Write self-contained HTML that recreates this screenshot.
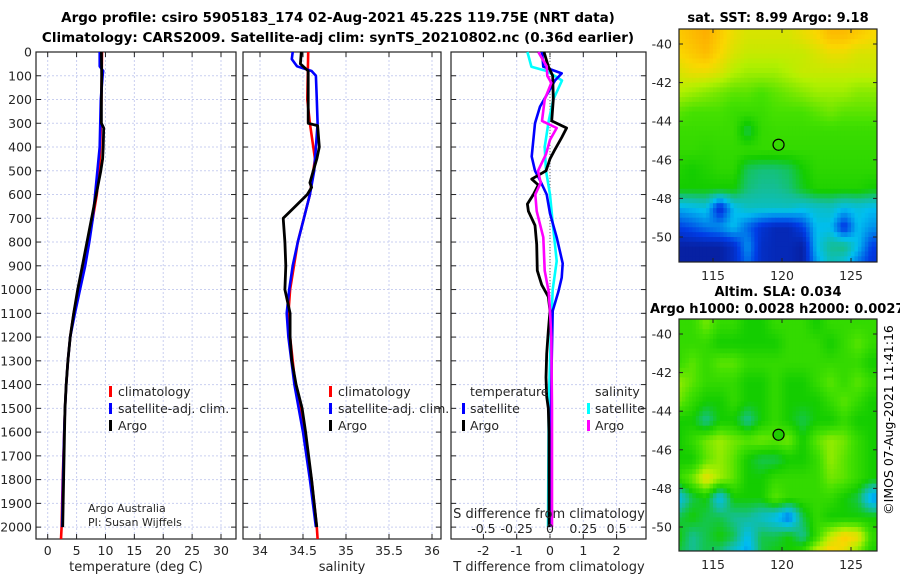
<!DOCTYPE html>
<html><head><meta charset="utf-8"><style>
body{margin:0;background:#fff;}
svg{display:block;font-family:"DejaVu Sans","Liberation Sans",sans-serif;}
</style></head><body>
<svg id="fig" width="900" height="580" viewBox="0 0 900 580" xmlns="http://www.w3.org/2000/svg">
<text x="338" y="22" font-size="13.5" font-weight="bold" text-anchor="middle">Argo profile: csiro 5905183_174 02-Aug-2021 45.22S 119.75E (NRT data)</text>
<text x="338" y="42" font-size="13.5" font-weight="bold" text-anchor="middle">Climatology: CARS2009. Satellite-adj clim: synTS_20210802.nc (0.36d earlier)</text>
<text x="778" y="22" font-size="13" font-weight="bold" text-anchor="middle">sat. SST: 8.99 Argo: 9.18</text>
<text x="778" y="296" font-size="13" font-weight="bold" text-anchor="middle">Altim. SLA: 0.034</text>
<text x="650" y="313" font-size="13" font-weight="bold">Argo h1000: 0.0028 h2000: 0.0027</text>
<text transform="translate(893,420) rotate(-90)" font-size="12.5" text-anchor="middle">©IMOS 07-Aug-2021 11:41:16</text>
<g id="plots"></g>
</svg>
<script>
// ---- data ----
const depthTicks=[0,100,200,300,400,500,600,700,800,900,1000,1100,1200,1300,1400,1500,1600,1700,1800,1900,2000];
const tempTicks=[0,5,10,15,20,25,30];
const salTicks=[34,34.5,35,35.5,36];
const tdiffTicks=[-2,-1,0,1,2];
const sdiffTicks=[-0.5,-0.25,0,0.25,0.5];
const sdiffTickLabels=["-0.5","-0.25","0","0.25","0.5"];

const tClimDepth=[0,200,400,500,600,700,800,900,1000,1100,1200,1300,1400,1500,1600,1800,2000,2050];
const tClim=[9.4,9.3,9.1,8.9,8.5,7.8,7.0,6.2,5.3,4.5,3.9,3.5,3.2,3.0,2.85,2.6,2.4,2.3];
const tSatDepth=[0,60,80,100,200,400,600,700,800,900,1000,1100,1200,1300,1400,1500,1600,1800,2000];
const tSat=[9.0,9.0,9.6,9.5,9.2,9.0,8.2,7.8,7.2,6.5,5.6,4.7,3.9,3.5,3.2,3.0,2.85,2.65,2.5];
const tArgoDepth=[0,100,200,300,320,400,450,500,600,700,800,900,1000,1100,1200,1300,1400,1500,1600,1800,2000];
const tArgo=[9.3,9.35,9.3,9.3,9.7,9.6,9.5,9.2,8.4,7.6,6.8,6.0,5.2,4.5,3.9,3.5,3.2,3.0,2.9,2.75,2.6];

const sClimDepth=[0,200,300,450,600,800,1000,1100,1200,1400,1600,1800,2000,2050];
const sClim=[34.56,34.55,34.58,34.64,34.58,34.44,34.35,34.33,34.35,34.41,34.52,34.6,34.66,34.67];
const sSatDepth=[0,30,60,80,100,200,300,400,500,600,700,800,900,1000,1100,1200,1400,1600,1800,2000];
const sSat=[34.38,34.37,34.43,34.6,34.65,34.66,34.67,34.65,34.63,34.58,34.51,34.44,34.38,34.34,34.31,34.33,34.4,34.5,34.58,34.65];
const sArgoDepth=[0,50,80,300,310,400,450,500,550,570,600,650,700,800,900,1000,1100,1200,1300,1400,1500,1600,1800,2000];
const sArgo=[34.48,34.47,34.56,34.56,34.67,34.69,34.66,34.62,34.58,34.6,34.55,34.41,34.27,34.29,34.3,34.29,34.35,34.35,34.37,34.42,34.49,34.53,34.6,34.66];

const dTSatDepth=[0,62,90,120,230,300,440,500,540,600,680,780,890,950,1010,1090,1300,1600,2000];
const dTSat=[-0.24,-0.2,0.35,0.15,-0.3,-0.45,-0.55,-0.45,-0.3,-0.1,0,0.2,0.38,0.35,0.25,0.08,0.05,0.02,0.0];
const dTArgoDepth=[0,60,100,200,290,320,360,410,450,500,535,560,600,640,670,730,810,920,980,1030,1090,1175,1270,1370,1450,1500,1600,2000];
const dTArgo=[-0.18,-0.05,0.08,0.1,0.05,0.5,0.35,0.15,0,-0.12,-0.55,-0.35,-0.5,-0.68,-0.65,-0.45,-0.4,-0.38,-0.25,-0.05,0,-0.05,-0.1,-0.12,-0.1,-0.05,-0.03,-0.03];
const dSSatDepth=[0,62,80,120,200,290,400,500,600,720,880,1000,1200,1500,2000];
const dSSat=[-0.17,-0.14,-0.025,0.09,0.025,-0.01,-0.04,-0.03,0,0.02,0.05,0.02,0.005,-0.01,-0.015];
const dSArgoDepth=[0,60,100,130,200,290,320,370,430,500,550,600,670,780,920,1010,1090,1200,1500,2000];
const dSArgo=[-0.088,-0.025,-0.02,0.01,-0.04,-0.06,0.05,0,-0.03,-0.09,-0.07,-0.11,-0.1,-0.05,-0.04,-0.01,0,0.01,0.015,0.015];

const mapLons=[112,113,114,115,116,117,118,119,120,121,122,123,124,125,126];
const mapLats=[-39,-40,-41,-42,-43,-44,-45,-46,-47,-48,-49,-50,-51];
const sstGrid=[
[0.78,0.8,0.82,0.78,0.74,0.72,0.72,0.72,0.72,0.74,0.76,0.8,0.8,0.78,0.76],
[0.76,0.78,0.8,0.76,0.72,0.7,0.7,0.7,0.7,0.7,0.72,0.74,0.74,0.72,0.72],
[0.72,0.74,0.74,0.72,0.68,0.66,0.66,0.66,0.68,0.7,0.7,0.7,0.7,0.7,0.7],
[0.68,0.66,0.64,0.62,0.6,0.6,0.58,0.6,0.62,0.64,0.66,0.66,0.66,0.64,0.64],
[0.6,0.58,0.58,0.58,0.56,0.56,0.56,0.58,0.58,0.58,0.6,0.62,0.6,0.6,0.6],
[0.56,0.56,0.56,0.56,0.56,0.45,0.55,0.56,0.56,0.56,0.56,0.56,0.56,0.56,0.56],
[0.55,0.55,0.54,0.55,0.55,0.55,0.55,0.55,0.55,0.55,0.55,0.55,0.55,0.55,0.55],
[0.52,0.5,0.52,0.54,0.54,0.44,0.42,0.42,0.44,0.5,0.54,0.54,0.54,0.54,0.54],
[0.5,0.5,0.5,0.5,0.5,0.42,0.4,0.4,0.42,0.48,0.52,0.52,0.52,0.52,0.5],
[0.28,0.3,0.32,0.1,0.3,0.35,0.35,0.35,0.35,0.32,0.34,0.35,0.3,0.32,0.3],
[0.15,0.18,0.22,0.25,0.3,0.2,0.12,0.08,0.08,0.15,0.3,0.3,0.12,0.3,0.25],
[0.05,0.05,0.05,0.05,0.1,0.25,0.1,0.08,0.08,0.05,0.3,0.4,0.42,0.3,0.15],
[0.05,0.05,0.05,0.05,0.1,0.2,0.1,0.08,0.08,0.05,0.25,0.35,0.3,0.2,0.12]];
const slaGrid=[
[0.55,0.55,0.62,0.55,0.55,0.5,0.5,0.55,0.55,0.55,0.5,0.55,0.55,0.55,0.55],
[0.55,0.55,0.55,0.5,0.5,0.5,0.5,0.5,0.55,0.55,0.55,0.5,0.55,0.6,0.55],
[0.55,0.6,0.55,0.6,0.6,0.55,0.55,0.55,0.55,0.55,0.55,0.55,0.55,0.55,0.5],
[0.65,0.6,0.55,0.55,0.55,0.5,0.5,0.55,0.5,0.5,0.55,0.6,0.55,0.6,0.55],
[0.62,0.55,0.5,0.5,0.55,0.5,0.5,0.55,0.5,0.5,0.5,0.55,0.6,0.55,0.5],
[0.5,0.5,0.4,0.5,0.5,0.4,0.5,0.55,0.5,0.45,0.5,0.5,0.55,0.5,0.5],
[0.5,0.55,0.62,0.66,0.62,0.6,0.62,0.6,0.62,0.5,0.6,0.65,0.62,0.55,0.5],
[0.5,0.5,0.6,0.65,0.6,0.5,0.45,0.45,0.5,0.5,0.55,0.65,0.6,0.55,0.5],
[0.55,0.62,0.75,0.66,0.6,0.5,0.5,0.55,0.55,0.55,0.55,0.62,0.6,0.55,0.5],
[0.3,0.45,0.5,0.3,0.5,0.5,0.5,0.6,0.55,0.55,0.55,0.55,0.5,0.45,0.25],
[0.45,0.5,0.45,0.45,0.4,0.4,0.35,0.3,0.2,0.45,0.55,0.5,0.5,0.5,0.5],
[0.5,0.4,0.45,0.5,0.45,0.3,0.45,0.45,0.5,0.4,0.55,0.7,0.78,0.75,0.55],
[0.45,0.4,0.45,0.4,0.3,0.25,0.45,0.5,0.5,0.6,0.75,0.8,0.72,0.6,0.5]];
const floatLon=119.75, floatLat=-45.22;
const latTicks=[-40,-42,-44,-46,-48,-50];
const lonTicks=[115,120,125];

// ---- helpers ----
const NS="http://www.w3.org/2000/svg";
const root=document.getElementById('plots');
function mk(tag,attrs,parent){const e=document.createElementNS(NS,tag);for(const k in attrs)e.setAttribute(k,attrs[k]);(parent||root).appendChild(e);return e;}
const Y0=52, YB=539, DMAX=2050;
const yD=d=>Y0+d*(YB-Y0)/DMAX;
function linScale(v0,p0,v1,p1){return v=>p0+(v-v0)*(p1-p0)/(v1-v0);}

function panel(name,x0,x1,xs,ticks,labels){
  const g=mk('g',{});
  
  
  ticks.forEach(t=>{const x=xs(t);const l=mk('line',{x1:x,x2:x,y1:Y0,y2:YB,stroke:'#c9cff0','stroke-width':1,'stroke-dasharray':'2,2'},g);
    });
  depthTicks.forEach(d=>{const y=yD(d);const l=mk('line',{x1:x0,x2:x1,y1:y,y2:y,stroke:'#c9cff0','stroke-width':1,'stroke-dasharray':'2,2'},g);
    
    mk('line',{x1:x0,x2:x0+5,y1:y,y2:y,stroke:'#222'},g);mk('line',{x1:x1-5,x2:x1,y1:y,y2:y,stroke:'#222'},g);});
  ticks.forEach((t,i)=>{const x=xs(t);mk('line',{x1:x,x2:x,y1:YB,y2:YB-5,stroke:'#222'},g);mk('line',{x1:x,x2:x,y1:Y0,y2:Y0+5,stroke:'#222'},g);
    if(labels){const tx=mk('text',{x:x,y:555,'font-size':12.5,'text-anchor':'middle',fill:'#262626'},g);tx.textContent=labels[i];
      }});
  const fr=mk('rect',{x:x0,y:Y0,width:x1-x0,height:YB-Y0,fill:'none',stroke:'#222','stroke-width':1.2},g);
  
  return g;
}
function series(g,name,depths,vals,xs,color,w){
  const pts=depths.map((d,i)=>xs(vals[i]).toFixed(1)+','+yD(d).toFixed(1)).join(' ');
  const p=mk('polyline',{points:pts,fill:'none',stroke:color,'stroke-width':w||2.6,'stroke-linejoin':'round'},g);
  
  
}
function txt(g,name,x,y,s,size,anchor){const t=mk('text',{x:x,y:y,'font-size':size||12.5,'text-anchor':anchor||'start',fill:'#262626'},g);t.textContent=s;
  return t;}
function legendMark(g,x,y,color){const r=mk('rect',{x:x,y:y-11,width:3,height:11,fill:color},g);
  }

// ---- panel 1: temperature ----
const xT=linScale(0,47.7,30,221);
const g1=panel('temperature-panel',36,236,xT,tempTicks,tempTicks.map(String));
depthTicks.forEach(d=>{txt(g1,'y-tick-label',32,yD(d)+4.5,String(d),12.5,'end');});
series(g1,'temperature-climatology',tClimDepth,tClim,xT,'#ff0000',2.6);
series(g1,'temperature-satellite-clim',tSatDepth,tSat,xT,'#0000ff',2.6);
series(g1,'temperature-argo',tArgoDepth,tArgo,xT,'#000000',2.8);
legendMark(g1,109,397,'#ff0000');txt(g1,'legend-climatology',118,396,'climatology');
legendMark(g1,109,414,'#0000ff');txt(g1,'legend-satellite-adj',118,413,'satellite-adj. clim.');
legendMark(g1,109,431,'#000');txt(g1,'legend-argo',118,430,'Argo');
txt(g1,'credit-argo-australia',88,512,'Argo Australia',11);
txt(g1,'credit-pi',88,526,'PI: Susan Wijffels',11);
txt(g1,'x-axis-title-temperature',136,571,'temperature (deg C)',13,'middle');

// ---- panel 2: salinity ----
const xS=linScale(34,260,36,432);
const g2=panel('salinity-panel',243,441,xS,salTicks,salTicks.map(String));
series(g2,'salinity-climatology',sClimDepth,sClim,xS,'#ff0000',2.6);
series(g2,'salinity-satellite-clim',sSatDepth,sSat,xS,'#0000ff',2.6);
series(g2,'salinity-argo',sArgoDepth,sArgo,xS,'#000000',2.8);
legendMark(g2,329,397,'#ff0000');txt(g2,'legend-climatology',338,396,'climatology');
legendMark(g2,329,414,'#0000ff');txt(g2,'legend-satellite-adj',338,413,'satellite-adj. clim.');
legendMark(g2,329,431,'#000');txt(g2,'legend-argo',338,430,'Argo');
txt(g2,'x-axis-title-salinity',342,571,'salinity',13,'middle');

// ---- panel 3: differences ----
const xDT=linScale(0,550,1,583.3);
const xDS=linScale(0,550,0.25,583.3);
const g3=panel('difference-panel',451,646,xDT,tdiffTicks,tdiffTicks.map(String));
const zl=mk('line',{x1:xDT(0),x2:xDT(0),y1:Y0,y2:YB,stroke:'#666','stroke-width':1,'stroke-dasharray':'1,2'},g3);

series(g3,'salinity-diff-satellite',dSSatDepth,dSSat,xDS,'#00ffff',2.6);
series(g3,'temperature-diff-satellite',dTSatDepth,dTSat,xDT,'#0000ff',2.6);
series(g3,'temperature-diff-argo',dTArgoDepth,dTArgo,xDT,'#000000',2.8);
series(g3,'salinity-diff-argo',dSArgoDepth,dSArgo,xDS,'#ff00ff',2.6);
txt(g3,'legend-temperature-header',470,396,'temperature');
txt(g3,'legend-salinity-header',595,396,'salinity');
legendMark(g3,462,414,'#0000ff');txt(g3,'legend-t-satellite',470,413,'satellite');
legendMark(g3,462,431,'#000');txt(g3,'legend-t-argo',470,430,'Argo');
legendMark(g3,587,414,'#00ffff');txt(g3,'legend-s-satellite',595,413,'satellite');
legendMark(g3,587,431,'#ff00ff');txt(g3,'legend-s-argo',595,430,'Argo');
txt(g3,'s-diff-axis-title',549,518,'S difference from climatology',13,'middle');
sdiffTicks.forEach((s,i)=>txt(g3,'s-diff-tick-label',xDS(s),533,sdiffTickLabels[i],12.5,'middle'));
txt(g3,'x-axis-title-t-difference',549,571,'T difference from climatology',13,'middle');

// ---- maps ----
const cstops=[[0,[10,20,130]],[0.15,[0,60,230]],[0.3,[0,190,240]],[0.4,[20,190,150]],[0.5,[20,205,0]],[0.58,[70,225,0]],[0.68,[180,240,0]],[0.76,[250,215,0]],[0.84,[255,160,0]],[1,[210,60,0]]];
function cmap(v){for(let i=1;i<cstops.length;i++){if(v<=cstops[i][0]){const a=cstops[i-1],b=cstops[i];const t=(v-a[0])/(b[0]-a[0]);
  const c=a[1].map((x,k)=>Math.round(x+(b[1][k]-x)*t));return 'rgb('+c.join(',')+')';}}return 'rgb(210,60,0)';}
function sample(grid,fr,fc){
  const R=grid.length-1,C=grid[0].length-1;
  fr=Math.max(0,Math.min(R,fr));fc=Math.max(0,Math.min(C,fc));
  const r0=Math.floor(fr),c0=Math.floor(fc),r1=Math.min(R,r0+1),c1=Math.min(C,c0+1);
  const tr=fr-r0,tc=fc-c0;
  const a=grid[r0][c0]*(1-tc)+grid[r0][c1]*tc, b=grid[r1][c0]*(1-tc)+grid[r1][c1]*tc;
  return a*(1-tr)+b*tr;
}
function drawMap(name,x0,y0,x1,y1,grid,filled){
  const g=mk('g',{});
  
  
  const xl=linScale(115,x0+34,125,x0+172);
  const yl=linScale(-40,y0+15,-50,y0+208);
  const cid='clip-'+name;
  const cp=mk('clipPath',{id:cid},g);mk('rect',{x:x0,y:y0,width:x1-x0,height:y1-y0},cp);
  const cells=mk('g',{'clip-path':'url(#'+cid+')'},g);
  const N=4;
  for(let r=0;r<grid.length*N;r++){for(let c=0;c<grid[0].length*N;c++){
    const lon=mapLons[0]+c/N, lat=mapLats[0]-r/N;
    const v=sample(grid,(r+0.5)/N-0.5,(c+0.5)/N-0.5);
    const xa=xl(lon),xb=xl(lon+1/N),ya=yl(lat),yb=yl(lat-1/N);
    const rc=mk('rect',{x:xa.toFixed(1),y:ya.toFixed(1),width:(xb-xa+0.6).toFixed(1),height:(yb-ya+0.6).toFixed(1),fill:cmap(v)},cells);
    
    
  }}
  const mk2=mk('circle',{cx:xl(floatLon),cy:yl(floatLat),r:5.5,fill:filled?'#20cc00':'none',stroke:'#000','stroke-width':1.2},g);
  
  
  const fr=mk('rect',{x:x0,y:y0,width:x1-x0,height:y1-y0,fill:'none',stroke:'#222','stroke-width':1.2},g);
  
  latTicks.forEach(l=>{const y=yl(l);mk('line',{x1:x0,x2:x0+4,y1:y,y2:y,stroke:'#222'},g);mk('line',{x1:x1-4,x2:x1,y1:y,y2:y,stroke:'#222'},g);
    txt(g,'lat-tick-label',672,y+4.5,String(l),12.5,'end');});
  lonTicks.forEach(l=>{const x=xl(l);mk('line',{x1:x,x2:x,y1:y1,y2:y1-4,stroke:'#222'},g);mk('line',{x1:x,x2:x,y1:y0,y2:y0+4,stroke:'#222'},g);
    txt(g,'lon-tick-label',x,y1+18,String(l),12.5,'middle');});
}
drawMap('sst-map',679,29,877,262,sstGrid,false);
drawMap('sla-map',679,319,877,551,slaGrid,true);
</script>
</body></html>
